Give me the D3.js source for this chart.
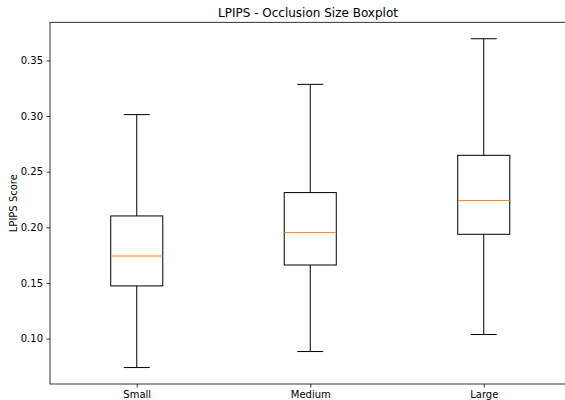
<!DOCTYPE html>
<html><head><meta charset="utf-8">
<script src="https://cdn.jsdelivr.net/npm/d3@7"></script>
<style>body{margin:0;background:#fff}svg{display:block}text{font-family:"DejaVu Sans",sans-serif;fill:#000}</style>
</head><body><svg id="c" width="565" height="400"></svg>
<script>
const categories = ["Small", "Medium", "Large"];
const whiskerLow = [0.0739, 0.0883, 0.1036];
const q1 = [0.1473, 0.1661, 0.1937];
const median = [0.1742, 0.1952, 0.2240];
const q3 = [0.2102, 0.2312, 0.2647];
const whiskerHigh = [0.3013, 0.3285, 0.3695];
const yTicks = [0.10, 0.15, 0.20, 0.25, 0.30, 0.35];

const svg = d3.select("#c");
const mLeft = 50, mRight = 570.5, mTop = 22.3, mBottom = 384;
const x = d3.scaleLinear().domain([0.5, 3.5]).range([mLeft, mRight]);
const lo = d3.min(whiskerLow), hi = d3.max(whiskerHigh), pad = (hi - lo) * 0.05;
const y = d3.scaleLinear().domain([lo - pad, hi + pad]).range([mBottom, mTop]);

// axes
const yAxis = svg.append("g").attr("transform", `translate(${mLeft},0)`)
  .call(d3.axisLeft(y).tickValues(yTicks).tickFormat(d3.format(".2f")).tickSizeOuter(0).tickSize(3.5).tickPadding(3.5));
const xAxis = svg.append("g").attr("transform", `translate(0,${mBottom})`)
  .call(d3.axisBottom(x).tickValues([1,2,3]).tickFormat((d,i)=>categories[i]).tickSizeOuter(0).tickSize(3.5).tickPadding(3.5));
[yAxis, xAxis].forEach(g => {
  g.selectAll("text").attr("font-size", 10).attr("font-family", "DejaVu Sans").attr("fill", "#000");
  g.selectAll("line").attr("stroke", "#000").attr("stroke-width", 0.8);
  g.select(".domain").remove();
});
// spines
svg.append("rect").attr("x", mLeft).attr("y", mTop).attr("width", mRight - mLeft).attr("height", mBottom - mTop)
  .attr("fill", "none").attr("stroke", "#000").attr("stroke-width", 0.8);

const bw = 0.3, cw = 0.15;
const g = svg.append("g").attr("stroke", "#000").attr("stroke-width", 1).attr("fill", "none");
categories.forEach((c, i) => {
  const p = i + 1;
  g.append("line").attr("x1", x(p)).attr("x2", x(p)).attr("y1", y(q3[i])).attr("y2", y(whiskerHigh[i]));
  g.append("line").attr("x1", x(p)).attr("x2", x(p)).attr("y1", y(q1[i])).attr("y2", y(whiskerLow[i]));
  g.append("line").attr("x1", x(p - cw/2)).attr("x2", x(p + cw/2)).attr("y1", y(whiskerHigh[i])).attr("y2", y(whiskerHigh[i]));
  g.append("line").attr("x1", x(p - cw/2)).attr("x2", x(p + cw/2)).attr("y1", y(whiskerLow[i])).attr("y2", y(whiskerLow[i]));
  g.append("rect").attr("x", x(p - bw/2)).attr("width", x(p + bw/2) - x(p - bw/2))
    .attr("y", y(q3[i])).attr("height", y(q1[i]) - y(q3[i]));
  g.append("line").attr("x1", x(p - bw/2)).attr("x2", x(p + bw/2)).attr("y1", y(median[i])).attr("y2", y(median[i]))
    .attr("stroke", "#ff7f0e");
});

svg.append("text").attr("x", 308).attr("y", 17).attr("text-anchor", "middle")
  .attr("font-size", 12).text("LPIPS - Occlusion Size Boxplot");
svg.append("text").attr("transform", `translate(17,${(mTop + mBottom) / 2}) rotate(-90)`)
  .attr("text-anchor", "middle").attr("font-size", 10).text("LPIPS Score");
</script></body></html>
